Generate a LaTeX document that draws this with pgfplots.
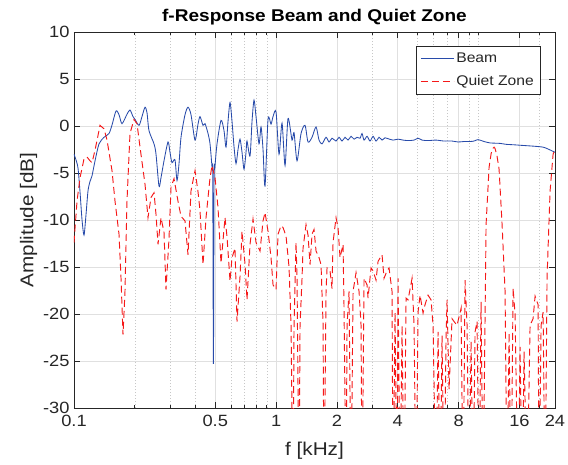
\documentclass[border=0pt]{standalone}
\usepackage{pgfplots}
\pgfplotsset{compat=1.18}
\usepackage{fontspec}
\setmainfont{Liberation Sans}[FakeStretch=1.12]
\definecolor{mblue}{RGB}{40,75,170}
\definecolor{mred}{RGB}{245,25,25}
\definecolor{axgray}{RGB}{38,38,38}
\begin{document}
\begin{tikzpicture}[x=1pt,y=1pt]
\path[use as bounding box] (-74,-56) rectangle (494,408);
\begin{axis}[
  at={(0,0)}, anchor=south west,
  scale only axis, width=481pt, height=376pt,
  xmode=log, xmin=0.1, xmax=24, ymin=-30, ymax=10,
  xtick={0.1,0.5,1,2,4,8,16,24},
  xticklabels={0.1,0.5,1,2,4,8,16,24},
  minor xtick={0.2,0.3,0.4,0.6,0.7,0.8,0.9,3,5,6,7,9,10,20},
  ytick={-30,-25,-20,-15,-10,-5,0,5,10},
  yticklabels={-30,-25,-20,-15,-10,-5,0,5,10},
  grid=both,
  major grid style={draw=black!12, line width=0.7pt},
  minor grid style={draw=black!22, dash pattern=on 0.8pt off 2.2pt, line width=0.6pt},
  tick align=inside,
  major tick length=6pt, minor tick length=3pt,
  axis line style={draw=axgray, line width=0.7pt},
  every tick/.style={draw=axgray, line width=0.7pt},
  ticklabel style={font=\fontsize{16.3}{19}\selectfont, text=axgray},
  xticklabel style={yshift=-4pt},
  yticklabel style={xshift=-1pt},
  xlabel={f [kHz]}, ylabel={Amplitude [dB]},
  label style={font=\fontsize{18.5}{21}\selectfont, text=axgray},
  xlabel style={yshift=-8pt},
  ylabel style={yshift=-1pt},
  title={f-Response Beam and Quiet Zone},
  title style={font=\fontsize{17}{19}\selectfont\bfseries, text=black, yshift=-3pt},
  legend style={at={(0.969,0.963)}, anchor=north east, draw=axgray, fill=white,
    font=\fontsize{14}{16}\selectfont, text=axgray, row sep=7pt, inner xsep=4pt, inner ysep=5pt},
  legend cell align=left,
  legend image code/.code={\draw[#1] (0pt,0pt) -- (33pt,0pt);},
  clip=true,
]
\addplot[mblue, line width=0.85pt, smooth, tension=0.45] coordinates {
(0.1000,-3.0) (0.1023,-3.6) (0.1047,-4.5) (0.1071,-7.0) (0.1096,-10.0) (0.1121,-11.6)
(0.1146,-9.5) (0.1173,-6.9) (0.1200,-5.9) (0.1228,-5.3) (0.1271,-3.7) (0.1330,-1.9)
(0.1408,-1.2) (0.1490,-0.8) (0.1542,0.1) (0.1614,1.6) (0.1670,1.2) (0.1728,0.25)
(0.1829,1.25) (0.1893,1.7) (0.1959,1.0) (0.2004,0.7) (0.2098,0.07) (0.2170,1.0)
(0.2246,2.0) (0.2298,1.4) (0.2351,-0.5) (0.2489,-1.9) (0.2546,-3.0) (0.2634,-6.4)
(0.2695,-5.5) (0.2789,-3.7) (0.2919,-1.7) (0.2986,-2.8) (0.3055,-3.9) (0.3161,-3.6)
(0.3234,-5.8) (0.3309,-4.0) (0.3385,-1.2) (0.3543,1.2) (0.3666,2.0) (0.3794,1.2)
(0.3971,-1.5) (0.4109,0.2) (0.4203,1.0) (0.4350,0.07) (0.4450,0.25) (0.4605,-0.8)
(0.4711,-1.9) (0.4820,-4.4) (0.4860,-5.5) (0.4897,-25.3) (0.4935,-5.5) (0.4980,-4.4) (0.5102,-1.9)
(0.5340,0.6) (0.5526,-0.5) (0.5653,-2.25) (0.5784,0.5) (0.5917,2.5) (0.6053,0.5)
(0.6193,-2.2) (0.6336,-4.0) (0.6482,-2.5) (0.6631,-1.4) (0.6784,-2.8) (0.6941,-4.6)
(0.7101,-2.8) (0.7180,-1.6) (0.7432,-3.2) (0.7603,0.5) (0.7778,2.75) (0.7958,1.0)
(0.8234,-1.9) (0.8424,-0.1) (0.8618,-2.5) (0.8817,-6.4) (0.9124,0.7) (0.9441,0.2)
(0.9659,1.0) (0.9995,1.5) (1.0342,-3.0) (1.0702,0.3) (1.1075,-4.2) (1.1460,0.8)
(1.1994,-1.5) (1.2270,-0.7) (1.2697,-3.7) (1.3289,-0.8) (1.3909,0.07) (1.4392,-1.7)
(1.5063,-1.2) (1.5766,-0.1) (1.6315,-1.5) (1.6882,-1.9) (1.7669,-1.2) (1.8284,-1.7)
(1.8919,-1.3) (1.9802,-1.6) (2.0491,-1.2) (2.1203,-1.6) (2.1942,-1.2) (2.2705,-1.5)
(2.3494,-1.1) (2.4311,-1.4) (2.5156,-1.2) (2.6031,-1.3) (2.6631,-0.8) (2.7246,-1.5)
(2.8194,-1.1) (2.9174,-1.6) (3.0189,-1.1) (3.1239,-1.6) (3.2326,-1.2) (3.3449,-1.5)
(3.4613,-1.25) (3.5817,-1.35) (3.7917,-1.5) (4.0140,-1.4) (4.2494,-1.5) (4.4986,-1.55)
(4.8170,-1.5) (5.0416,-1.3) (5.2767,-1.5) (5.6503,-1.55) (6.1896,-1.5) (6.7805,-1.6)
(7.4277,-1.6) (7.9534,-1.7) (8.5163,-1.65) (9.1189,-1.65) (9.5443,-1.6) (9.9893,-1.45)
(10.696,-1.65) (11.453,-1.8) (12.836,-1.85) (13.745,-1.95) (15.057,-2.0) (16.683,-2.07)
(18.911,-2.15) (20.954,-2.25) (22.183,-2.45) (23.217,-2.65) (24.0,-2.8)
};
\addlegendentry{Beam}
\addplot[mred, line width=0.95pt, dash pattern=on 7pt off 4pt] coordinates {
(0.1000,-12.4) (0.1035,-8) (0.1071,-5.5) (0.1121,-3.5) (0.1160,-3.3) (0.1200,-3.7)
(0.1228,-3.9) (0.1270,-2.6) (0.1315,-1.0) (0.1345,0.07) (0.1408,-0.3) (0.1457,-1.5)
(0.1542,-4.75) (0.1596,-8) (0.1670,-11.5) (0.1709,-16.2) (0.1748,-22.2) (0.1788,-17.6)
(0.1829,-8) (0.1893,-0.8) (0.1981,0.7) (0.2050,0.25) (0.2122,-2.25) (0.2246,-6.2)
(0.2324,-9.75) (0.2405,-7.6) (0.2489,-7.1) (0.2546,-9.4) (0.2605,-12.6) (0.2695,-9.75)
(0.2789,-11.3) (0.2853,-17.4) (0.2952,-12) (0.3021,-6.5) (0.3126,-5.6) (0.3271,-8)
(0.3385,-9.6) (0.3543,-10.1) (0.3666,-13.7) (0.3794,-6.9) (0.3971,-4.75) (0.4109,-7)
(0.4203,-9.0) (0.4350,-14.75) (0.4501,-9.75) (0.4711,-5.5) (0.4820,-4.2) (0.4987,-5.5)
(0.5161,-8.7) (0.5340,-14.6) (0.5589,-9.75) (0.5718,-11.8) (0.5917,-16.5) (0.6053,-14)
(0.6264,-13) (0.6408,-20.8) (0.6631,-16) (0.6784,-11.2) (0.7020,-14.7) (0.7182,-18.5)
(0.7432,-12.6) (0.7690,-9.9) (0.7958,-12.4) (0.8329,-13.3) (0.8618,-10.1) (0.8817,-9.2)
(0.9124,-11.2) (0.9441,-14) (0.9659,-16.9) (0.9995,-17.4) (1.0225,-11.5) (1.0581,-10.6)
(1.0825,-10.8) (1.1201,-11.7) (1.1591,-15) (1.1858,-21.2) (1.2131,-40) (1.2270,-21.2)
(1.2553,-12.4) (1.2697,-16.2) (1.2989,-40) (1.3138,-21.2) (1.3441,-16.2) (1.3595,-13)
(1.4068,-10.5) (1.4392,-11.6) (1.4724,-14.75) (1.5063,-11.5) (1.5411,-11) (1.5766,-13.3)
(1.6315,-14) (1.6691,-14.75) (1.7076,-21) (1.7271,-40) (1.7669,-17.6) (1.7871,-15.1)
(1.8493,-15.4) (1.8919,-17.3) (1.9136,-12.4) (1.9802,-9.75) (2.0259,-10.8) (2.0726,-14)
(2.1447,-12.6) (2.1693,-19.4) (2.2193,-40) (2.2448,-21.2) (2.2965,-17.6) (2.3494,-40)
(2.4036,-17.6) (2.4872,-15.6) (2.5737,-17.6) (2.6330,-21.2) (2.6631,-40) (2.7246,-16.2)
(2.8194,-16.9) (2.8517,-18.3) (2.9509,-15.1) (3.0189,-15.4) (3.1239,-16.4) (3.1959,-14.4)
(3.3449,-13.7) (3.4221,-16.2) (3.5411,-15.4) (3.6226,-15.1) (3.7487,-17.6) (3.7917,-40)
(3.8792,-19.8) (3.9686,-40) (4.0140,-16.2) (4.1069,-40) (4.2012,-21.2) (4.2982,-40)
(4.3973,-18.3) (4.4986,-18.5) (4.7084,-16.2) (4.8170,-21.2) (4.9280,-40) (5.0416,-19.8)
(5.1579,-18) (5.3373,-19.9) (5.4603,-19) (5.6503,-18) (5.8469,-18.5) (5.9817,-21.2)
(6.1896,-40) (6.3324,-21.9) (6.4781,-40) (6.6276,-22.3) (6.7805,-40) (6.9368,-22.6)
(7.0162,-18.5) (7.1781,-28) (7.4277,-20.5) (7.5990,-20.8) (7.8632,-21.2) (8.2300,-19.4)
(8.4204,-40) (8.6140,-16.4) (8.8124,-21.2) (9.0156,-40) (9.2238,-22.9) (9.4360,-40)
(9.6537,-21.9) (9.8761,-20.8) (10.104,-40) (10.337,-18.7) (10.575,-40) (10.943,-10.5)
(11.323,-4.4) (11.600,-2.9) (11.853,-2.35) (11.990,-2.25) (12.125,-2.4) (12.400,-3.2) (12.691,-4.6) (13.135,-10.5)
(13.589,-17.6) (13.902,-40) (14.223,-22) (14.550,-40) (14.886,-17.25) (15.230,-20)
(15.760,-40) (16.123,-23.5) (16.494,-40) (16.874,-24) (17.461,-40) (18.068,-21.2)
(18.697,-20.5) (19.128,-18.1) (19.793,-19) (20.020,-40) (20.481,-21.2) (20.954,-19.8)
(21.437,-40) (21.931,-16) (22.693,-6.9) (23.483,-3.0) (24.0,-2.5)
};
\addlegendentry{Quiet Zone}
\end{axis}
\end{tikzpicture}
\end{document}
